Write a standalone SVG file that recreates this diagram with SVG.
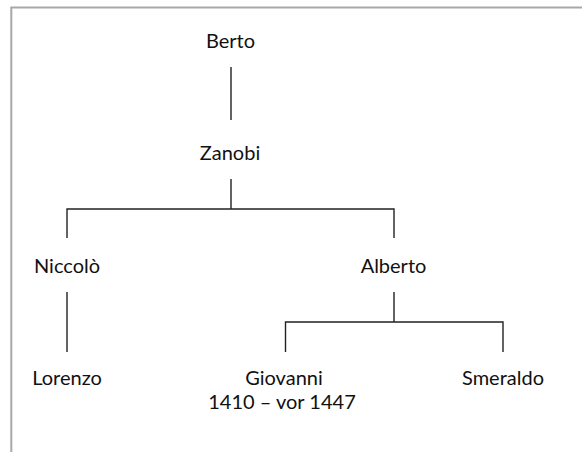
<svg xmlns="http://www.w3.org/2000/svg" width="582" height="452" viewBox="0 0 582 452">
<style>
.frame{fill:none;stroke:#a8a8a8;stroke-width:2}
.lbl{font-family:Lato,"Liberation Sans",sans-serif;font-size:20px;fill:#111;text-anchor:middle}
.con{fill:none;stroke:#222;stroke-width:1.4}
</style>
<rect width="582" height="452" fill="#fff"/>
<path class="frame" d="M11.3,452 V7.5 H582"/>
<g id="connectors">
<path class="con" d="M231,67 V120"/>
<path class="con" d="M231,179 V209 M67,238 V209 H394 V238"/>
<path class="con" d="M67,292 V352"/>
<path class="con" d="M394,292 V322 M285.5,352 V322 H503 V352"/>
</g>
<g id="berto"><text class="lbl" x="230.5" y="48">Berto</text></g>
<g id="zanobi"><text class="lbl" x="230" y="160">Zanobi</text></g>
<g id="niccolo"><text class="lbl" x="67" y="273">Niccolò</text></g>
<g id="alberto"><text class="lbl" x="393.5" y="273">Alberto</text></g>
<g id="lorenzo"><text class="lbl" x="67" y="385">Lorenzo</text></g>
<g id="giovanni"><text class="lbl" x="284" y="385">Giovanni</text><text class="lbl" x="282" y="409">1410 – vor 1447</text></g>
<g id="smeraldo"><text class="lbl" x="503" y="385">Smeraldo</text></g>
</svg>
